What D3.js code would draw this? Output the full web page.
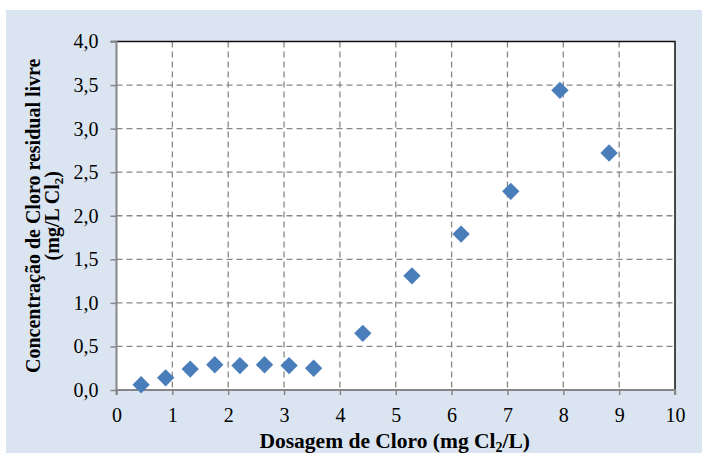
<!DOCTYPE html>
<html><head><meta charset="utf-8">
<script src="https://cdn.jsdelivr.net/npm/d3@7"></script>
<style>html,body{margin:0;padding:0;background:#fff;}svg{display:block;}
svg text{font-family:"Liberation Serif","Times New Roman",serif !important;}</style>
</head><body>
<svg id="c" width="702" height="453"></svg>
<script>
const doses = [0.44, 0.88, 1.32, 1.76, 2.21, 2.65, 3.09, 3.53, 4.41, 5.29, 6.17, 7.06, 7.94, 8.82];
const residual = [0.06, 0.14, 0.24, 0.29, 0.28, 0.29, 0.28, 0.25, 0.65, 1.31, 1.79, 2.28, 3.44, 2.72];
const xTicks = [0,1,2,3,4,5,6,7,8,9,10];
const yTicks = [0,0.5,1,1.5,2,2.5,3,3.5,4];
const xTitle = "Dosagem de Cloro (mg Cl";
const yTitle1 = "Concentração de Cloro residual livre";

const serif = '"Liberation Serif","Times New Roman",serif';
const svg = d3.select("#c");
svg.append("rect").attr("x",6).attr("y",10).attr("width",696).attr("height",443).attr("fill","#dbe5f1");

const L=116.5, R=675, T=41.5, B=390;
const x = d3.scaleLinear().domain([0,10]).range([L,R]);
const y = d3.scaleLinear().domain([0,4]).range([B,T]);

svg.append("rect").attr("x",L).attr("y",T).attr("width",R-L).attr("height",B-T).attr("fill","#fff");

const g = svg.append("g");
g.selectAll("line.vg").data(xTicks.slice(1,-1)).join("line")
  .attr("x1",d=>x(d)).attr("x2",d=>x(d)).attr("y1",T).attr("y2",B)
  .attr("stroke","#888").attr("stroke-width",1.3).attr("stroke-dasharray","6,4");
g.selectAll("line.hg").data(yTicks.slice(1,-1)).join("line")
  .attr("y1",d=>y(d)).attr("y2",d=>y(d)).attr("x1",L).attr("x2",R)
  .attr("stroke","#888").attr("stroke-width",1.3).attr("stroke-dasharray","6,4");

svg.append("path").attr("d",`M${L},${T}H${R}V${B}`).attr("fill","none").attr("stroke","#111").attr("stroke-width",1.5);

const xa = svg.append("g").attr("transform",`translate(0,${B})`)
  .call(d3.axisBottom(x).tickValues(xTicks).tickSize(5).tickPadding(13).tickFormat(d3.format("d")));
const ya = svg.append("g").attr("transform",`translate(${L},0)`)
  .call(d3.axisLeft(y).tickValues(yTicks).tickSize(6).tickPadding(12).tickFormat(d=>d3.format(".1f")(d).replace(".",",")));
[xa,ya].forEach(a=>{
  a.attr("font-family",serif).attr("font-size",20);
  a.select(".domain").attr("stroke","#868686").attr("stroke-width",2);
  a.selectAll(".tick line").attr("stroke","#868686").attr("stroke-width",1.5);
  a.selectAll("text").attr("font-family",serif).attr("font-size",20).attr("fill","#000");
});
ya.select(".domain").attr("d",`M-6,${T}H0V${B}`);
xa.select(".domain").attr("d",`M${L},5V0H${R}V5`);

svg.append("g").selectAll("path").data(doses.map((d,i)=>[d,residual[i]])).join("path")
  .attr("d",d3.symbol().type(d3.symbolSquare).size(150))
  .attr("transform",d=>`translate(${x(d[0])},${y(d[1])}) rotate(45)`)
  .attr("fill","#4a7ebb");

const xt = svg.append("text").attr("x",(L+R)/2-1).attr("y",448).attr("text-anchor","middle")
  .attr("font-family",serif).attr("font-size",21.5).attr("font-weight","bold").attr("fill","#000");
xt.append("tspan").text(xTitle);
xt.append("tspan").attr("font-size",14).attr("dy",4).text("2");
xt.append("tspan").attr("dy",-4).text("/L)");

const yt = svg.append("text").attr("transform",`translate(40,${(T+B)/2}) rotate(-90)`).attr("text-anchor","middle")
  .attr("font-family",serif).attr("font-size",20).attr("font-weight","bold").attr("fill","#000");
yt.append("tspan").attr("x",0).attr("y",0).text(yTitle1);
yt.append("tspan").attr("x",0).attr("y",19).text("(mg/L Cl");
yt.append("tspan").attr("font-size",13).attr("dy",4).text("2");
yt.append("tspan").attr("dy",-4).text(")");
</script>
</body></html>
